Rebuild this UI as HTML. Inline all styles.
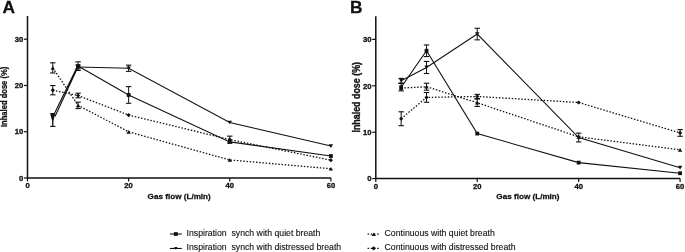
<!DOCTYPE html>
<html><head><meta charset="utf-8"><style>
html,body{margin:0;padding:0;background:#fff;}
svg{display:block;filter:grayscale(1);}
text{font-family:"Liberation Sans",sans-serif;fill:#111;}
.tk{font-size:7.1px;font-weight:bold;stroke:#111;stroke-width:0.3px;}
.ax{font-size:7.6px;font-weight:bold;stroke:#111;stroke-width:0.25px;}
.pl{font-size:17.3px;font-weight:bold;stroke:#111;stroke-width:0.3px;}
.lg{font-size:8.7px;stroke:#111;stroke-width:0.12px;}
</style></head><body>
<svg width="685" height="252" viewBox="0 0 685 252">
<rect width="685" height="252" fill="#fff"/>
<g fill="#111">
<path d="M27.50 16.07V178.00H330.90" fill="none" stroke="#111" stroke-width="1.5"/>
<path d="M23.90 178.00H27.50" stroke="#111" stroke-width="1.2"/>
<text transform="translate(23.20 180.70) scale(1.08 1)" text-anchor="end" class="tk">0</text>
<path d="M23.90 131.73H27.50" stroke="#111" stroke-width="1.2"/>
<text transform="translate(23.20 134.43) scale(1.08 1)" text-anchor="end" class="tk">10</text>
<path d="M23.90 85.47H27.50" stroke="#111" stroke-width="1.2"/>
<text transform="translate(23.20 88.17) scale(1.08 1)" text-anchor="end" class="tk">20</text>
<path d="M23.90 39.20H27.50" stroke="#111" stroke-width="1.2"/>
<text transform="translate(23.20 41.90) scale(1.08 1)" text-anchor="end" class="tk">30</text>
<path d="M27.50 178.00V181.40" stroke="#111" stroke-width="1.2"/>
<text transform="translate(27.50 188.00) scale(1.08 1)" text-anchor="middle" class="tk">0</text>
<path d="M128.63 178.00V181.40" stroke="#111" stroke-width="1.2"/>
<text transform="translate(128.63 188.00) scale(1.08 1)" text-anchor="middle" class="tk">20</text>
<path d="M229.77 178.00V181.40" stroke="#111" stroke-width="1.2"/>
<text transform="translate(229.77 188.00) scale(1.08 1)" text-anchor="middle" class="tk">40</text>
<path d="M330.90 178.00V181.40" stroke="#111" stroke-width="1.2"/>
<text transform="translate(330.90 188.00) scale(1.08 1)" text-anchor="middle" class="tk">60</text>
<text transform="translate(179.20 198.8) scale(1.07 1)" text-anchor="middle" class="ax">Gas flow (L/min)</text>
<text transform="translate(7.3 96.9) rotate(-90) scale(1.0 1.08)" text-anchor="middle" class="ax">Inhaled dose (%)</text>
<text x="2.6" y="12.8" class="pl">A</text>
<path d="M52.78 67.89 L78.07 105.36 L128.63 131.83 L229.77 159.96 L330.90 168.75" fill="none" stroke="#111" stroke-width="1.3" stroke-dasharray="1.5 1.7"/>
<path d="M52.78 90.19 L78.07 95.51 L128.63 115.08 L229.77 139.60 L330.90 160.19" fill="none" stroke="#111" stroke-width="1.3" stroke-dasharray="1.5 1.7"/>
<path d="M78.07 66.03 L128.63 94.95 L229.77 141.91 L330.90 156.02" fill="none" stroke="#111" stroke-width="1.1"/>
<path d="M78.07 66.96 L128.63 68.26 L229.77 122.48 L330.90 146.08" fill="none" stroke="#111" stroke-width="1.1"/>
<path d="M53.0 116.5L77.6 66.0M55.0 116.5L78.4 66.0" fill="none" stroke="#111" stroke-width="1.1"/>
<path d="M50.2 112.9H55.1L54.7 115.8L53.4 120.6H52.1L50.7 115.8Z"/>
<path d="M52.75 118V126.4" stroke="#111" stroke-width="1.3"/>
<path d="M50.1 126.4H55.5" stroke="#111" stroke-width="1.1"/>
<path d="M52.78 62.80V72.97" stroke="#111" stroke-width="1"/>
<path d="M50.08 62.80H55.48" stroke="#111" stroke-width="1.1"/>
<path d="M50.08 72.97H55.48" stroke="#111" stroke-width="1.1"/>
<path d="M50.58 69.74H54.98L52.78 66.04Z"/>
<path d="M78.07 102.12V108.60" stroke="#111" stroke-width="1"/>
<path d="M75.37 102.12H80.77" stroke="#111" stroke-width="1.1"/>
<path d="M75.37 108.60H80.77" stroke="#111" stroke-width="1.1"/>
<path d="M75.87 107.21H80.27L78.07 103.51Z"/>
<path d="M126.43 133.68H130.83L128.63 129.98Z"/>
<path d="M227.57 161.81H231.97L229.77 158.11Z"/>
<path d="M328.70 170.60H333.10L330.90 166.90Z"/>
<path d="M52.78 85.56V94.81" stroke="#111" stroke-width="1"/>
<path d="M50.08 85.56H55.48" stroke="#111" stroke-width="1.1"/>
<path d="M50.08 94.81H55.48" stroke="#111" stroke-width="1.1"/>
<path d="M52.78 88.09L54.88 90.19L52.78 92.29L50.68 90.19Z"/>
<path d="M78.07 93.19V97.82" stroke="#111" stroke-width="1"/>
<path d="M75.37 93.19H80.77" stroke="#111" stroke-width="1.1"/>
<path d="M75.37 97.82H80.77" stroke="#111" stroke-width="1.1"/>
<path d="M78.07 93.41L80.17 95.51L78.07 97.61L75.97 95.51Z"/>
<path d="M128.63 112.98L130.73 115.08L128.63 117.18L126.53 115.08Z"/>
<path d="M229.77 136.13V143.07" stroke="#111" stroke-width="1"/>
<path d="M227.07 136.13H232.47" stroke="#111" stroke-width="1.1"/>
<path d="M227.07 143.07H232.47" stroke="#111" stroke-width="1.1"/>
<path d="M229.77 137.50L231.87 139.60L229.77 141.70L227.67 139.60Z"/>
<path d="M330.90 158.09L333.00 160.19L330.90 162.29L328.80 160.19Z"/>
<path d="M78.07 61.87V70.43" stroke="#111" stroke-width="1"/>
<path d="M75.37 61.87H80.77" stroke="#111" stroke-width="1.1"/>
<path d="M75.37 70.43H80.77" stroke="#111" stroke-width="1.1"/>
<rect x="76.17" y="64.13" width="3.8" height="3.8"/>
<path d="M128.63 86.62V103.28" stroke="#111" stroke-width="1"/>
<path d="M125.93 86.62H131.33" stroke="#111" stroke-width="1.1"/>
<path d="M125.93 103.28H131.33" stroke="#111" stroke-width="1.1"/>
<rect x="126.73" y="93.05" width="3.8" height="3.8"/>
<rect x="227.87" y="140.01" width="3.8" height="3.8"/>
<rect x="329.00" y="154.12" width="3.8" height="3.8"/>
<path d="M78.07 65.11V68.81" stroke="#111" stroke-width="1"/>
<path d="M75.37 65.11H80.77" stroke="#111" stroke-width="1.1"/>
<path d="M75.37 68.81H80.77" stroke="#111" stroke-width="1.1"/>
<path d="M75.87 65.11H80.27L78.07 68.81Z"/>
<path d="M128.63 65.16V71.36" stroke="#111" stroke-width="1"/>
<path d="M125.93 65.16H131.33" stroke="#111" stroke-width="1.1"/>
<path d="M125.93 71.36H131.33" stroke="#111" stroke-width="1.1"/>
<path d="M126.43 66.41H130.83L128.63 70.11Z"/>
<path d="M227.57 120.63H231.97L229.77 124.33Z"/>
<path d="M328.70 144.23H333.10L330.90 147.93Z"/>
<path d="M375.80 16.20V178.60H680.10" fill="none" stroke="#111" stroke-width="1.5"/>
<path d="M372.20 178.60H375.80" stroke="#111" stroke-width="1.2"/>
<text transform="translate(371.50 181.30) scale(1.08 1)" text-anchor="end" class="tk">0</text>
<path d="M372.20 132.20H375.80" stroke="#111" stroke-width="1.2"/>
<text transform="translate(371.50 134.90) scale(1.08 1)" text-anchor="end" class="tk">10</text>
<path d="M372.20 85.80H375.80" stroke="#111" stroke-width="1.2"/>
<text transform="translate(371.50 88.50) scale(1.08 1)" text-anchor="end" class="tk">20</text>
<path d="M372.20 39.40H375.80" stroke="#111" stroke-width="1.2"/>
<text transform="translate(371.50 42.10) scale(1.08 1)" text-anchor="end" class="tk">30</text>
<path d="M375.80 178.60V182.00" stroke="#111" stroke-width="1.2"/>
<text transform="translate(375.80 188.60) scale(1.08 1)" text-anchor="middle" class="tk">0</text>
<path d="M477.23 178.60V182.00" stroke="#111" stroke-width="1.2"/>
<text transform="translate(477.23 188.60) scale(1.08 1)" text-anchor="middle" class="tk">20</text>
<path d="M578.67 178.60V182.00" stroke="#111" stroke-width="1.2"/>
<text transform="translate(578.67 188.60) scale(1.08 1)" text-anchor="middle" class="tk">40</text>
<path d="M680.10 178.60V182.00" stroke="#111" stroke-width="1.2"/>
<text transform="translate(680.10 188.60) scale(1.08 1)" text-anchor="middle" class="tk">60</text>
<text transform="translate(527.95 198.8) scale(1.07 1)" text-anchor="middle" class="ax">Gas flow (L/min)</text>
<text transform="translate(359.6 97.3) rotate(-90) scale(1.17 1.32)" text-anchor="middle" class="ax">Inhaled dose (%)</text>
<text x="350.1" y="12.8" class="pl">B</text>
<path d="M401.16 88.12 L426.52 86.73 L477.23 102.74 L578.67 136.84 L680.10 149.83" fill="none" stroke="#111" stroke-width="1.3" stroke-dasharray="1.5 1.7"/>
<path d="M401.16 118.74 L426.52 97.40 L477.23 96.47 L578.67 102.50 L680.10 132.94" fill="none" stroke="#111" stroke-width="1.3" stroke-dasharray="1.5 1.7"/>
<path d="M401.16 87.19 L426.52 50.77 L477.23 133.59 L578.67 162.59 L680.10 173.26" fill="none" stroke="#111" stroke-width="1.1"/>
<path d="M401.16 80.70 L426.52 67.47 L477.23 34.06 L578.67 137.54 L680.10 167.70" fill="none" stroke="#111" stroke-width="1.1"/>
<path d="M398.96 89.97H403.36L401.16 86.27Z"/>
<path d="M426.52 83.25V90.21" stroke="#111" stroke-width="1"/>
<path d="M423.82 83.25H429.22" stroke="#111" stroke-width="1.1"/>
<path d="M423.82 90.21H429.22" stroke="#111" stroke-width="1.1"/>
<path d="M424.32 88.58H428.72L426.52 84.88Z"/>
<path d="M477.23 99.02V106.45" stroke="#111" stroke-width="1"/>
<path d="M474.53 99.02H479.93" stroke="#111" stroke-width="1.1"/>
<path d="M474.53 106.45H479.93" stroke="#111" stroke-width="1.1"/>
<path d="M475.03 104.59H479.43L477.23 100.89Z"/>
<path d="M576.47 138.69H580.87L578.67 134.99Z"/>
<path d="M677.90 151.68H682.30L680.10 147.98Z"/>
<path d="M401.16 111.78V125.70" stroke="#111" stroke-width="1"/>
<path d="M398.46 111.78H403.86" stroke="#111" stroke-width="1.1"/>
<path d="M398.46 125.70H403.86" stroke="#111" stroke-width="1.1"/>
<path d="M401.16 116.64L403.26 118.74L401.16 120.84L399.06 118.74Z"/>
<path d="M426.52 92.53V102.27" stroke="#111" stroke-width="1"/>
<path d="M423.82 92.53H429.22" stroke="#111" stroke-width="1.1"/>
<path d="M423.82 102.27H429.22" stroke="#111" stroke-width="1.1"/>
<path d="M426.52 95.30L428.62 97.40L426.52 99.50L424.42 97.40Z"/>
<path d="M477.23 94.38V98.56" stroke="#111" stroke-width="1"/>
<path d="M474.53 94.38H479.93" stroke="#111" stroke-width="1.1"/>
<path d="M474.53 98.56H479.93" stroke="#111" stroke-width="1.1"/>
<path d="M477.23 94.37L479.33 96.47L477.23 98.57L475.13 96.47Z"/>
<path d="M578.67 100.40L580.77 102.50L578.67 104.60L576.57 102.50Z"/>
<path d="M680.10 129.60V136.28" stroke="#111" stroke-width="1"/>
<path d="M677.40 129.60H682.80" stroke="#111" stroke-width="1.1"/>
<path d="M677.40 136.28H682.80" stroke="#111" stroke-width="1.1"/>
<path d="M680.10 130.84L682.20 132.94L680.10 135.04L678.00 132.94Z"/>
<path d="M401.16 83.48V90.90" stroke="#111" stroke-width="1"/>
<path d="M398.46 83.48H403.86" stroke="#111" stroke-width="1.1"/>
<path d="M398.46 90.90H403.86" stroke="#111" stroke-width="1.1"/>
<rect x="399.26" y="85.29" width="3.8" height="3.8"/>
<path d="M426.52 44.97V56.57" stroke="#111" stroke-width="1"/>
<path d="M423.82 44.97H429.22" stroke="#111" stroke-width="1.1"/>
<path d="M423.82 56.57H429.22" stroke="#111" stroke-width="1.1"/>
<rect x="424.62" y="48.87" width="3.8" height="3.8"/>
<rect x="475.33" y="131.69" width="3.8" height="3.8"/>
<rect x="576.77" y="160.69" width="3.8" height="3.8"/>
<rect x="678.20" y="171.36" width="3.8" height="3.8"/>
<path d="M401.16 78.38V83.02" stroke="#111" stroke-width="1"/>
<path d="M398.46 78.38H403.86" stroke="#111" stroke-width="1.1"/>
<path d="M398.46 83.02H403.86" stroke="#111" stroke-width="1.1"/>
<path d="M398.96 78.85H403.36L401.16 82.55Z"/>
<path d="M426.52 61.44V73.50" stroke="#111" stroke-width="1"/>
<path d="M423.82 61.44H429.22" stroke="#111" stroke-width="1.1"/>
<path d="M423.82 73.50H429.22" stroke="#111" stroke-width="1.1"/>
<path d="M424.32 65.62H428.72L426.52 69.32Z"/>
<path d="M477.23 28.26V39.86" stroke="#111" stroke-width="1"/>
<path d="M474.53 28.26H479.93" stroke="#111" stroke-width="1.1"/>
<path d="M474.53 39.86H479.93" stroke="#111" stroke-width="1.1"/>
<path d="M475.03 32.21H479.43L477.23 35.91Z"/>
<path d="M578.67 133.13V141.94" stroke="#111" stroke-width="1"/>
<path d="M575.97 133.13H581.37" stroke="#111" stroke-width="1.1"/>
<path d="M575.97 141.94H581.37" stroke="#111" stroke-width="1.1"/>
<path d="M576.47 135.69H580.87L578.67 139.39Z"/>
<path d="M677.90 165.85H682.30L680.10 169.55Z"/>
<path d="M169.9 234.0H181.8" stroke="#111" stroke-width="1.1"/>
<rect x="173.9" y="232.15" width="3.9" height="3.7"/>
<path d="M169.9 248.45H181.8" stroke="#111" stroke-width="1.1"/>
<path d="M174.2 246.9H177.5L175.85 249.8Z"/>
<text transform="translate(186.6 235.9) scale(1.0 1)" class="lg">Inspiration&#160; synch with quiet breath</text>
<text transform="translate(186.6 249.6) scale(1.0 1)" class="lg">Inspiration&#160; synch with distressed breath</text>
<path d="M367.55 234.1H378.65" stroke="#111" stroke-width="1.3" stroke-dasharray="1.5 1.7"/>
<path d="M371.6 235.9H375.9L373.75 232.5Z"/>
<path d="M367.55 248.3H378.65" stroke="#111" stroke-width="1.3" stroke-dasharray="1.5 1.7"/>
<path d="M373.65 246.2L375.9 248.3L373.65 250.4L371.4 248.3Z"/>
<text transform="translate(384.6 235.8) scale(1.0 1)" class="lg">Continuous with quiet breath</text>
<text transform="translate(384.6 249.6) scale(1.0 1)" class="lg">Continuous with distressed breath</text>
</g>
</svg>
</body></html>
